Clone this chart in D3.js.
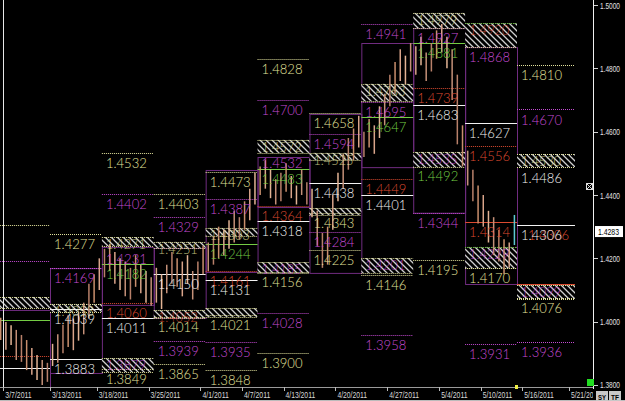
<!DOCTYPE html>
<html><head><meta charset="utf-8">
<script src="https://cdn.jsdelivr.net/npm/d3@7"></script>
<style>html,body{margin:0;padding:0;background:#000;overflow:hidden}</style>
</head><body><svg id="c" width="625" height="401"></svg>
<script>
// ---------- DATA ----------
const weekStarts = ["2011-03-06","2011-03-13","2011-03-20","2011-03-27","2011-04-03","2011-04-10","2011-04-17","2011-04-24","2011-05-01","2011-05-08","2011-05-15"];
const dateTicks = ["2011-03-07","2011-03-13","2011-03-18","2011-03-25","2011-04-01","2011-04-07","2011-04-13","2011-04-20","2011-04-27","2011-05-04","2011-05-10","2011-05-16","2011-05-21"];
const dateTickLabels = ["3/7/2011","3/13/2011","3/18/2011","3/25/2011","4/1/2011","4/7/2011","4/13/2011","4/20/2011","4/27/2011","5/4/2011","5/10/2011","5/16/2011","5/21/2011"];
const priceTicks = [1.50,1.48,1.46,1.44,1.42,1.40,1.38];
const priceTickLabels = ["1.5000","1.4800","1.4600","1.4400","1.4200","1.4000","1.3800"];
const lastPrice = 1.4283;

// bars: one row per week, 10 bars each
const barHigh = [
  [1.4012,1.3999,1.3989,1.3974,1.3958,1.3942,1.3917,1.3895,1.3879,1.3870],
  [1.3930,1.3960,1.3990,1.4020,1.4010,1.4030,1.4060,1.4120,1.4150,1.4200],
  [1.4230,1.4245,1.4220,1.4200,1.4190,1.4170,1.4210,1.4180,1.4160,1.4140],
  [1.4170,1.4150,1.4180,1.4220,1.4200,1.4190,1.4210,1.4160,1.4190,1.4240],
  [1.4250,1.4270,1.4300,1.4290,1.4320,1.4350,1.4330,1.4380,1.4420,1.4470],
  [1.4490,1.4510,1.4480,1.4450,1.4470,1.4500,1.4460,1.4430,1.4480,1.4440],
  [1.4420,1.4350,1.4280,1.4300,1.4400,1.4470,1.4530,1.4580,1.4610,1.4650],
  [1.4600,1.4640,1.4620,1.4680,1.4720,1.4780,1.4820,1.4860,1.4840,1.4880],
  [1.4870,1.4900,1.4850,1.4880,1.4920,1.4940,1.4900,1.4860,1.4780,1.4620],
  [1.4540,1.4480,1.4430,1.4400,1.4350,1.4330,1.4290,1.4260,1.4250,1.4337]
];
const barLow = [
  [1.3942,1.3911,1.3926,1.3879,1.3873,1.3847,1.3832,1.3816,1.3800,1.3810],
  [1.3860,1.3870,1.3900,1.3920,1.3910,1.3940,1.3960,1.4010,1.4060,1.4100],
  [1.4140,1.4160,1.4120,1.4100,1.4080,1.4070,1.4110,1.4090,1.4060,1.4050],
  [1.4060,1.4040,1.4090,1.4120,1.4110,1.4080,1.4120,1.4070,1.4100,1.4150],
  [1.4160,1.4180,1.4200,1.4210,1.4230,1.4250,1.4260,1.4290,1.4320,1.4370],
  [1.4400,1.4420,1.4390,1.4370,1.4380,1.4410,1.4390,1.4370,1.4400,1.4370],
  [1.4330,1.4240,1.4170,1.4180,1.4290,1.4380,1.4420,1.4480,1.4510,1.4550],
  [1.4520,1.4550,1.4530,1.4580,1.4620,1.4680,1.4720,1.4760,1.4750,1.4790],
  [1.4780,1.4810,1.4760,1.4790,1.4830,1.4850,1.4800,1.4700,1.4560,1.4490],
  [1.4430,1.4380,1.4310,1.4300,1.4250,1.4210,1.4190,1.4150,1.4170,1.4242]
];

// weekly levels: [week, price, kind, showLabel]
const levels = [
  [0,1.4305,"Y",0],[0,1.4192,"M",0],[0,1.4005,"G",0],[0,1.3893,"R",0],[0,1.3853,"W",0],
  [1,1.4277,"Y",1],[1,1.4169,"M",1],[1,1.4039,"W",1],[1,1.3883,"W",1],
  [2,1.4532,"Y",1],[2,1.4402,"M",1],[2,1.4231,"Mn",1],[2,1.4182,"G",1],[2,1.4060,"R",1],[2,1.4011,"W",1],[2,1.3849,"Y",1],
  [3,1.4403,"Y",1],[3,1.4329,"M",1],[3,1.4150,"W",1],[3,1.4014,"Y",1],[3,1.3939,"M",1],[3,1.3865,"Y",1],
  [4,1.4473,"Y",1],[4,1.4387,"M",1],[4,1.4244,"G",1],[4,1.4161,"R",1],[4,1.4131,"W",1],[4,1.4021,"Y",1],[4,1.3935,"M",1],[4,1.3848,"Y",1],
  [5,1.4828,"Y",1],[5,1.4700,"M",1],[5,1.4532,"Mn",1],[5,1.4483,"G",1],[5,1.4364,"R",1],[5,1.4318,"W",1],[5,1.4156,"Y",1],[5,1.4028,"M",1],[5,1.3900,"Y",1],
  [6,1.4658,"Y",1],[6,1.4594,"M",1],[6,1.4438,"W",1],[6,1.4343,"Y",1],[6,1.4284,"M",1],[6,1.4225,"Y",1],
  [7,1.4941,"M",1],[7,1.4695,"M",1],[7,1.4647,"G",1],[7,1.4449,"R",1],[7,1.4401,"W",1],[7,1.4146,"Y",1],[7,1.3958,"M",1],
  [8,1.4927,"Mn",1],[8,1.4881,"G",1],[8,1.4739,"R",1],[8,1.4683,"W",1],[8,1.4492,"Gn",1],[8,1.4344,"M",1],[8,1.4195,"Y",1],
  [9,1.4868,"Mn",1],[9,1.4627,"W",1],[9,1.4556,"R",1],[9,1.4314,"Rs",1],[9,1.4170,"Y",1],[9,1.3931,"M",1],
  [10,1.4810,"Y",1],[10,1.4670,"M",1],[10,1.4486,"Wn",1],[10,1.4306,"W",1],[10,1.4120,"Rs",0],[10,1.4076,"Y",1],[10,1.3936,"M",1]
];
// hatched zones: [week, top, bottom, label, labelKind]
const zones = [
  [0,1.4078,1.4043,"","Y"],
  [1,1.4056,1.4031,"1.4053","Y"],
  [2,1.4267,1.4239,"1.4271","Y"],[2,1.3885,1.3841,"1.3879","M"],
  [3,1.4252,1.4233,"1.4251","Y"],[3,1.4037,1.4012,"1.4052","R"],
  [4,1.4296,1.4271,"1.4303","Y"],[4,1.4043,1.4015,"","R"],
  [5,1.4574,1.4533,"1.4572","Y"],[5,1.4188,1.4154,"1.4185","M"],
  [6,1.4533,1.4511,"1.4525","Y"],[6,1.4359,1.4337,"","Y"],
  [7,1.4751,1.4697,"1.4763","Y"],[7,1.4201,1.4154,"1.4201","M"],
  [8,1.4975,1.4927,"1.4979","Y"],[8,1.4536,1.4488,"1.4535","M"],
  [9,1.4943,1.4867,"1.4920","R"],[9,1.4236,1.4169,"1.4229","M"],
  [10,1.4529,1.4488,"1.4530","Y"],[10,1.4116,1.4072,"1.4099","M"]
];
// weekly range boxes: [week, top, bottom]
const boxes = [
  [0,1.4037,1.3790],[1,1.4169,1.3838],[2,1.4236,1.4053],[3,1.4233,1.4012],[4,1.4479,1.4157],
  [5,1.4520,1.4362],[6,1.4656,1.4154],[7,1.4880,1.4488],[8,1.4927,1.4344],[9,1.4867,1.4119]
];

// ---------- STYLE ----------
const C = {Y:"#e2e29c", M:"#c44ad2", R:"#dc4a30", G:"#74cc44", W:"#f2f2f2"};
const kindStyle = {
  Y:{c:C.Y,dash:"1,1",line:true}, M:{c:C.M,dash:"1,1",line:true}, R:{c:C.R,dash:"1,1",line:true},
  Rs:{c:C.R,dash:null,line:true}, W:{c:C.W,dash:null,line:true}, G:{c:C.G,dash:null,line:true},
  Mn:{c:C.M,line:false}, Gn:{c:C.G,line:false}, Wn:{c:C.W,line:false}
};
const barPalette = ["#c98f6d","#e2b394","#b8806a","#d9a48a","#c49078"];
const labelFont = "Lato, 'Open Sans', 'Liberation Sans', sans-serif";

const svg = d3.select("#c");
svg.append("rect").attr("width",625).attr("height",401).attr("fill","#000");

const y = d3.scaleLinear().domain([1.38,1.50]).range([385,5]);
const x = d3.scaleLinear().domain([1,10]).range([50,517]);
const colStart = i => x(i);
const colEnd = i => i === 10 ? 575 : x(i+1);
const t0 = new Date(weekStarts[0]+"T00:00:00Z");
function weekPos(s){
  const d = new Date(s+"T00:00:00Z");
  const w = Math.floor((d - t0)/(7*864e5));
  const wd = d.getUTCDay();
  const f = wd===0 ? 0 : wd===6 ? 1 : (wd-0.5)/5;
  return w + f;
}

const defs = svg.append("defs");
const pat = defs.append("pattern").attr("id","hatch").attr("patternUnits","userSpaceOnUse")
  .attr("width",6).attr("height",6);
pat.append("rect").attr("width",6).attr("height",6).attr("fill","#000");
pat.append("path").attr("d","M0,0L6,6M-1,5L1,7M5,-1L7,1").attr("stroke","#d0d0d0").attr("stroke-width",1.3);
defs.append("clipPath").attr("id","plot").append("rect").attr("x",0).attr("y",0).attr("width",593).attr("height",387);
defs.append("clipPath").attr("id","xlab").append("rect").attr("x",0).attr("y",387).attr("width",593).attr("height",14);

const plot = svg.append("g").attr("clip-path","url(#plot)");

// boxes
plot.selectAll(".box").data(boxes).join("rect")
  .attr("x",d=>colStart(d[0])+0.5).attr("y",d=>y(d[1])+0.5)
  .attr("width",d=>colEnd(d[0])-colStart(d[0])).attr("height",d=>y(d[2])-y(d[1]))
  .attr("fill","none").attr("stroke","#702c80").attr("stroke-width",1);

// hatch zones
const zg = plot.selectAll(".zone").data(zones).join("g");
zg.append("rect").attr("x",d=>colStart(d[0])).attr("y",d=>y(d[1]))
  .attr("width",d=>colEnd(d[0])-colStart(d[0])).attr("height",d=>y(d[2])-y(d[1]))
  .attr("fill","url(#hatch)");
zg.append("line").attr("x1",d=>colStart(d[0])).attr("x2",d=>colEnd(d[0]))
  .attr("y1",d=>Math.round(y(d[1]))+0.5).attr("y2",d=>Math.round(y(d[1]))+0.5)
  .attr("stroke",d=>d[0]===9?C.G:C.Y).attr("stroke-dasharray","1,1");
zg.append("line").attr("x1",d=>colStart(d[0])).attr("x2",d=>colEnd(d[0]))
  .attr("y1",d=>Math.round(y(d[2]))+0.5).attr("y2",d=>Math.round(y(d[2]))+0.5)
  .attr("stroke",C.Y).attr("stroke-dasharray","1,1");

// level lines
plot.selectAll(".lvl").data(levels.filter(d=>kindStyle[d[2]].line)).join("line")
  .attr("x1",d=>colStart(d[0])).attr("x2",d=>colEnd(d[0]))
  .attr("y1",d=>Math.round(y(d[1]))+0.5).attr("y2",d=>Math.round(y(d[1]))+0.5)
  .attr("stroke",d=>kindStyle[d[2]].c).attr("stroke-width",1)
  .attr("stroke-dasharray",d=>kindStyle[d[2]].dash);

// bars
const barData = [];
barHigh.forEach((row,w)=>row.forEach((h,k)=>barData.push({w,k,h,l:barLow[w][k]})));
plot.selectAll(".bar").data(barData).join("line")
  .attr("x1",d=>x(d.w+(d.k+0.5)/10)).attr("x2",d=>x(d.w+(d.k+0.5)/10))
  .attr("y1",d=>y(d.h)).attr("y2",d=>y(d.l))
  .attr("stroke",d=>(d.w===9&&d.k===9)?"#5cc8d0":barPalette[(d.k*3+d.w)%5])
  .attr("stroke-width",1.5);

// zone labels
plot.selectAll(".zl").data(zones.filter(d=>d[3])).join("text")
  .attr("x",d=>colStart(d[0])+4).attr("y",d=>y(d[1])+12)
  .attr("fill",d=>C[d[4]]).attr("font-family",labelFont).attr("font-weight",300)
  .attr("font-size",14).attr("textLength",40).attr("lengthAdjust","spacingAndGlyphs")
  .attr("opacity",0.8).text(d=>d[3]);

// level labels
const lab = levels.filter(d=>d[3]);
plot.selectAll(".red2").data(lab.filter(d=>d[0]===10&&d[2]==="W")).join("text")
  .attr("x",d=>colStart(d[0])+11).attr("y",d=>y(d[1])+15)
  .attr("fill",C.R).attr("font-family",labelFont).attr("font-weight",300)
  .attr("font-size",14).attr("textLength",41).attr("lengthAdjust","spacingAndGlyphs")
  .text(d=>d[1].toFixed(4));
plot.selectAll(".ll").data(lab).join("text")
  .attr("x",d=>colStart(d[0])+4).attr("y",d=>y(d[1])+15)
  .attr("fill",d=>kindStyle[d[2]].c).attr("font-family",labelFont).attr("font-weight",300)
  .attr("font-size",14).attr("textLength",41).attr("lengthAdjust","spacingAndGlyphs")
  .text(d=>d[1].toFixed(4));

// left start line
svg.append("line").attr("x1",3.5).attr("x2",3.5).attr("y1",0).attr("y2",387).attr("stroke","#e8e8e8");

// right price axis
svg.append("line").attr("x1",593.5).attr("x2",593.5).attr("y1",0).attr("y2",389).attr("stroke","#f0f0f0");
const ya = svg.append("g");
ya.selectAll("line").data(priceTicks).join("line")
  .attr("x1",594).attr("x2",598).attr("y1",d=>Math.round(y(d))+0.5).attr("y2",d=>Math.round(y(d))+0.5)
  .attr("stroke","#d0d0d0");
ya.selectAll("text").data(priceTicks).join("text")
  .attr("x",600).attr("y",d=>Math.min(y(d)+3.5,387.5)).attr("fill","#e0e0e0")
  .attr("font-family","Liberation Sans, Arial, sans-serif").attr("font-size",8.5)
  .attr("textLength",20).attr("lengthAdjust","spacingAndGlyphs")
  .text((d,i)=>priceTickLabels[i]);
// current price marker
svg.append("rect").attr("x",595.5).attr("y",y(lastPrice)-5.5).attr("width",27).attr("height",10)
  .attr("fill","#fff").attr("stroke","#fff");
svg.append("text").attr("x",598).attr("y",y(lastPrice)+3).attr("fill","#000")
  .attr("font-family","Liberation Sans, Arial, sans-serif").attr("font-size",8.5)
  .attr("textLength",21).attr("lengthAdjust","spacingAndGlyphs").text(lastPrice.toFixed(4));
// small icon
svg.append("rect").attr("x",586.5).attr("y",183.5).attr("width",6).attr("height",6).attr("fill","none").attr("stroke","#ddd");
svg.append("path").attr("d","M587,184L592,189M592,184L587,189").attr("stroke","#ddd");

// bottom date axis
svg.append("line").attr("x1",0).attr("x2",593).attr("y1",387.5).attr("y2",387.5).attr("stroke","#9a9a9a");
const xa = svg.append("g");
xa.selectAll("line").data(dateTicks).join("line")
  .attr("x1",d=>Math.round(x(weekPos(d)))+0.5).attr("x2",d=>Math.round(x(weekPos(d)))+0.5)
  .attr("y1",387).attr("y2",391).attr("stroke","#bbb");
xa.append("g").attr("clip-path","url(#xlab)").selectAll("text").data(dateTicks).join("text")
  .attr("x",d=>x(weekPos(d))+2).attr("y",398).attr("fill","#d8d8d8")
  .attr("font-family","Liberation Sans, Arial, sans-serif").attr("font-size",9)
  .attr("textLength",(d,i)=>dateTickLabels[i].length*3.3).attr("lengthAdjust","spacingAndGlyphs")
  .text((d,i)=>dateTickLabels[i]);
svg.append("line").attr("x1",0).attr("x2",625).attr("y1",400.5).attr("y2",400.5).attr("stroke","#bbb");
// green marker & yellow dot
svg.append("rect").attr("x",587).attr("y",379).attr("width",7).attr("height",7).attr("fill","#22dd22");
svg.append("rect").attr("x",515).attr("y",385).attr("width",3).attr("height",4).attr("fill","#eeee44");
// SY / TF buttons
[["SY",596],["TF",609]].forEach(([t,bx])=>{
  svg.append("rect").attr("x",bx).attr("y",391).attr("width",12).attr("height",10).attr("fill","#c8c8c8");
  svg.append("text").attr("x",bx+2).attr("y",399.5).attr("fill","#000").attr("font-family","Liberation Sans, Arial, sans-serif")
    .attr("font-size",8).attr("font-weight","bold").attr("textLength",8).attr("lengthAdjust","spacingAndGlyphs").text(t);
});
</script></body></html>
